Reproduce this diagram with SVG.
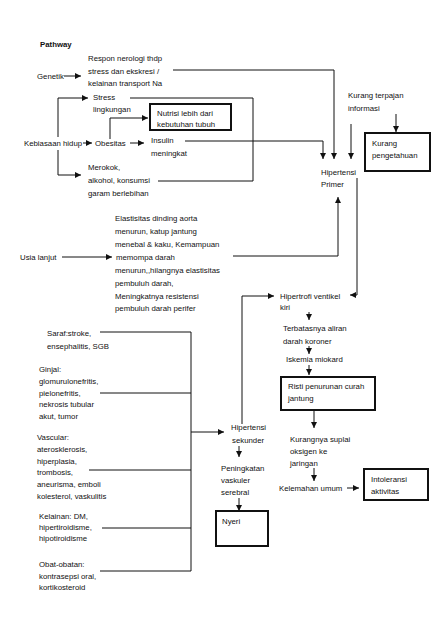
<svg xmlns="http://www.w3.org/2000/svg" width="435" height="621" viewBox="0 0 435 621">
<style>
text{font-family:"Liberation Sans",Arial,sans-serif;font-size:7.8px;fill:#111}
.b{font-weight:bold}
.c{fill:none;stroke:#111;stroke-width:1}
.box{fill:none;stroke:#111;stroke-width:2}
</style>
<defs>
<marker id="ah" markerUnits="userSpaceOnUse" markerWidth="7" markerHeight="6" refX="6" refY="3" orient="auto">
<path d="M0,0 L6,3 L0,6 z" fill="#111"/>
</marker>
</defs>
<rect width="435" height="621" fill="#fff"/>
<g id="connectors">
<path class="c" d="M64,76 H81" marker-end="url(#ah)"/>
<path class="c" d="M173,70 H334 V159" marker-end="url(#ah)"/>
<path class="c" d="M58,137 V98 H88" marker-end="url(#ah)"/>
<path class="c" d="M58,150 V175 H81" marker-end="url(#ah)"/>
<path class="c" d="M83,143 H92" marker-end="url(#ah)"/>
<path class="c" d="M130,143 H144" marker-end="url(#ah)"/>
<path class="c" d="M110,139 V118 H148" marker-end="url(#ah)"/>
<path class="c" d="M130,98 H253 V181 H158"/>
<path class="c" d="M185,141 H323 V159" marker-end="url(#ah)"/>
<path class="c" d="M351,124 V159" marker-end="url(#ah)"/>
<path class="c" d="M396,114 V132" marker-end="url(#ah)"/>
<path class="c" d="M357,178 V295 H350" marker-end="url(#ah)"/>
<path class="c" d="M62,257 H112" marker-end="url(#ah)"/>
<path class="c" d="M233,256 H338 V197" marker-end="url(#ah)"/>
<path class="c" d="M242,424 V296 H274" marker-end="url(#ah)"/>
<path class="c" d="M309,312 V320" marker-end="url(#ah)"/>
<path class="c" d="M309,346 V354" marker-end="url(#ah)"/>
<path class="c" d="M309,365 V375" marker-end="url(#ah)"/>
<path class="c" d="M314,410 V428" marker-end="url(#ah)"/>
<path class="c" d="M314,468 V481" marker-end="url(#ah)"/>
<path class="c" d="M347,488 H359" marker-end="url(#ah)"/>
<path class="c" d="M100,332 H191 V571 H100"/>
<path class="c" d="M100,393 H191"/>
<path class="c" d="M89,470 H191"/>
<path class="c" d="M102,528 H191"/>
<path class="c" d="M191,432 H224" marker-end="url(#ah)"/>
<path class="c" d="M239,446 V457" marker-end="url(#ah)"/>
<path class="c" d="M239,498 V511" marker-end="url(#ah)"/>
</g>
<g id="title"><text class="b" x="40" y="47">Pathway</text></g>
<g id="genetik"><text x="37" y="79">Genetik</text></g>
<g id="respon"><text x="88" y="61">Respon nerologi thdp</text><text x="88" y="74">stress dan ekskresi /</text><text x="88" y="86">kelainan transport Na</text></g>
<g id="stress"><text x="93" y="100">Stress</text><text x="93" y="112">lingkungan</text></g>
<g id="nutrisi"><rect class="box" x="150" y="104" width="81" height="26"/><text x="157" y="116">Nutrisi lebih dari</text><text x="157" y="127">kebutuhan tubuh</text></g>
<g id="kebiasaan"><text x="24" y="146">Kebiasaan hidup</text></g>
<g id="obesitas"><text x="95" y="146">Obesitas</text></g>
<g id="insulin"><text x="151" y="143">Insulin</text><text x="151" y="156">meningkat</text></g>
<g id="merokok"><text x="88" y="170">Merokok,</text><text x="88" y="183">alkohol, konsumsi</text><text x="88" y="196">garam berlebihan</text></g>
<g id="kurang-terpajan"><text x="348" y="98">Kurang terpajan</text><text x="348" y="111">informasi</text></g>
<g id="kurang-pengetahuan"><rect class="box" x="365" y="133" width="65" height="38"/><text x="372" y="146">Kurang</text><text x="372" y="158">pengetahuan</text></g>
<g id="hipertensi-primer"><text x="321" y="175">Hipertensi</text><text x="321" y="187">Primer</text></g>
<g id="usia"><text x="20" y="260">Usia lanjut</text></g>
<g id="elastisitas"><text x="115" y="221">Elastisitas dinding aorta</text><text x="115" y="234">menurun, katup jantung</text><text x="115" y="247">menebal &amp; kaku, Kemampuan</text><text x="116" y="260">memompa darah</text><text x="115" y="273">menurun,,hilangnya elastisitas</text><text x="115" y="286">pembuluh darah,</text><text x="115" y="299">Meningkatnya resistensi</text><text x="115" y="311">pembuluh darah perifer</text></g>
<g id="hipertrofi"><text x="280" y="299">Hipertrofi ventikel</text><text x="280" y="310">kiri</text></g>
<g id="terbatasnya"><text x="283" y="331">Terbatasnya aliran</text><text x="283" y="344">darah koroner</text></g>
<g id="iskemia"><text x="286" y="362">Iskemia miokard</text></g>
<g id="risti"><rect class="box" x="281" y="377" width="94" height="33"/><text x="288" y="389">Risti penurunan curah</text><text x="288" y="401">jantung</text></g>
<g id="kurangnya"><text x="290" y="442">Kurangnya suplai</text><text x="290" y="454">oksigen ke</text><text x="290" y="466">jaringan</text></g>
<g id="kelemahan"><text x="279" y="491">Kelemahan umum</text></g>
<g id="intoleransi"><rect class="box" x="364" y="469" width="64" height="31"/><text x="371" y="482">Intoleransi</text><text x="371" y="494">aktivitas</text></g>
<g id="hipertensi-sekunder"><text x="231" y="430">Hipertensi</text><text x="232" y="443">sekunder</text></g>
<g id="peningkatan"><text x="221" y="471">Peningkatan</text><text x="221" y="483">vaskuler</text><text x="221" y="495">serebral</text></g>
<g id="nyeri"><rect class="box" x="216" y="511" width="52" height="35"/><text x="222" y="524">Nyeri</text></g>
<g id="saraf"><text x="47" y="336">Saraf:stroke,</text><text x="47" y="349">ensephalitis, SGB</text></g>
<g id="ginjal"><text x="39" y="372">Ginjal:</text><text x="39" y="384">glomurulonefritis,</text><text x="39" y="396">pielonefritis,</text><text x="39" y="407">nekrosis tubular</text><text x="39" y="419">akut, tumor</text></g>
<g id="vascular"><text x="37" y="440">Vascular:</text><text x="37" y="452">aterosklerosis,</text><text x="37" y="464">hiperplasia,</text><text x="37" y="475">trombosis,</text><text x="37" y="487">aneurisma, emboli</text><text x="37" y="499">kolesterol,  vaskulitis</text></g>
<g id="kelainan"><text x="39" y="519">Kelainan: DM,</text><text x="39" y="530">hipertiroidisme,</text><text x="39" y="541">hipotiroidisme</text></g>
<g id="obat"><text x="39" y="567">Obat-obatan:</text><text x="39" y="579">kontrasepsi oral,</text><text x="39" y="590">kortikosteroid</text></g>
</svg>
